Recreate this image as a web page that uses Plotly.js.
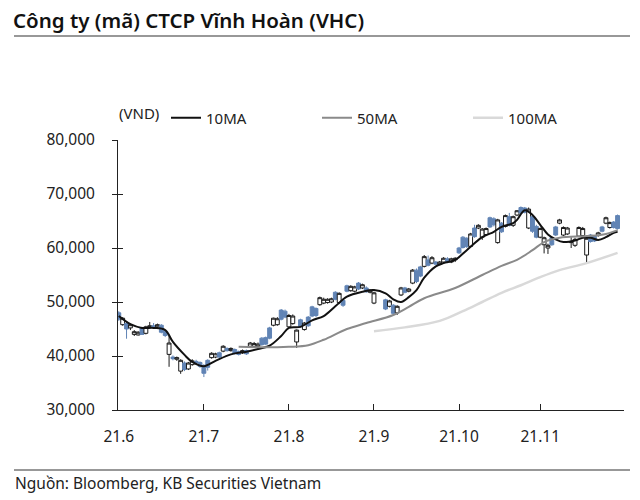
<!DOCTYPE html>
<html><head><meta charset="utf-8">
<script src="https://cdn.plot.ly/plotly-3.0.1.min.js"></script>
<style>html,body{margin:0;padding:0;background:#fff}#chart{width:640px;height:500px}</style>
</head><body><div id="chart"></div>
<script>
// Daily OHLC, thousand VND
const dates = ['2021-06-01','2021-06-02','2021-06-03','2021-06-04','2021-06-07','2021-06-08','2021-06-09','2021-06-10','2021-06-11','2021-06-14','2021-06-15','2021-06-16','2021-06-17','2021-06-18','2021-06-21','2021-06-22','2021-06-23','2021-06-24','2021-06-25','2021-06-28','2021-06-29','2021-06-30',
'2021-07-01','2021-07-02','2021-07-05','2021-07-06','2021-07-07','2021-07-08','2021-07-09','2021-07-12','2021-07-13','2021-07-14','2021-07-15','2021-07-16','2021-07-19','2021-07-20','2021-07-21','2021-07-22','2021-07-23','2021-07-26','2021-07-27','2021-07-28','2021-07-29','2021-07-30',
'2021-08-02','2021-08-03','2021-08-04','2021-08-05','2021-08-06','2021-08-09','2021-08-10','2021-08-11','2021-08-12','2021-08-13','2021-08-16','2021-08-17','2021-08-18','2021-08-19','2021-08-20','2021-08-23','2021-08-24','2021-08-25','2021-08-26','2021-08-27','2021-08-30','2021-08-31',
'2021-09-01','2021-09-06','2021-09-07','2021-09-08','2021-09-09','2021-09-10','2021-09-13','2021-09-14','2021-09-15','2021-09-16','2021-09-17','2021-09-20','2021-09-21','2021-09-22','2021-09-23','2021-09-24','2021-09-27','2021-09-28','2021-09-29','2021-09-30',
'2021-10-01','2021-10-04','2021-10-05','2021-10-06','2021-10-07','2021-10-08','2021-10-11','2021-10-12','2021-10-13','2021-10-14','2021-10-15','2021-10-18','2021-10-19','2021-10-20','2021-10-21','2021-10-22','2021-10-25','2021-10-26','2021-10-27','2021-10-28','2021-10-29',
'2021-11-01','2021-11-02','2021-11-03','2021-11-04','2021-11-05','2021-11-08','2021-11-09','2021-11-10','2021-11-11','2021-11-12','2021-11-15','2021-11-16','2021-11-17','2021-11-18','2021-11-19','2021-11-22','2021-11-23','2021-11-24','2021-11-25','2021-11-26','2021-11-29'];
const openK = [48.0,45.8,46.0,45.2,44.0,43.9,45.2,44.2,45.3,45.6,45.4,45.7,44.5,40.3,39.8,39.4,37.2,38.7,37.6,38.4,39.0,38.8,
38.2,39.2,39.7,39.8,40.6,40.9,41.4,41.0,41.2,40.8,40.6,41.0,41.8,41.8,41.8,43.3,43.4,45.2,45.7,45.8,48.5,48.3,
45.4,46.0,42.6,46.7,44.9,47.2,49.1,48.8,49.5,49.8,49.9,50.0,51.8,49.9,50.3,53.0,52.1,52.0,53.5,52.6,52.6,51.8,
49.8,50.4,49.2,49.4,48.0,51.3,52.6,52.0,53.5,55.9,56.5,56.6,57.8,57.2,57.4,57.0,57.4,58.0,57.4,57.8,
60.0,62.0,61.8,60.3,63.7,63.7,62.0,62.5,65.6,65.4,61.0,64.6,64.0,65.8,64.2,66.1,67.5,67.4,63.7,65.8,64.0,
62.0,60.6,60.0,61.9,63.9,64.6,62.4,62.6,61.0,60.5,62.2,62.3,58.7,62.4,62.2,62.3,63.9,64.6,63.8,64.8,66.0];
const highK = [48.3,47.2,46.3,46.0,44.8,44.6,45.4,45.6,46.3,46.1,46.0,45.9,44.8,43.7,40.1,39.9,39.4,39.0,38.9,39.4,39.3,39.0,
38.5,39.4,40.7,40.6,40.8,42.0,41.6,41.6,41.4,41.0,41.2,41.2,42.6,42.6,42.5,43.5,43.6,45.4,47.1,47.2,48.7,48.6,
47.8,47.7,44.9,46.9,46.3,47.4,49.3,49.0,51.0,50.8,50.7,50.8,52.0,51.8,50.6,53.2,53.1,53.0,53.7,53.4,52.9,52.3,
51.9,50.6,50.4,49.6,49.4,52.8,52.8,52.6,56.1,56.2,56.7,58.7,58.6,58.5,57.6,57.6,58.3,58.3,58.2,58.3,
60.2,62.2,62.0,62.8,64.3,64.4,63.7,63.8,65.8,65.7,65.4,64.8,66.2,66.5,66.0,67.0,67.7,67.6,67.5,66.1,64.3,
63.8,62.1,60.8,62.1,64.1,65.4,64.0,63.9,62.0,61.9,64.0,63.9,62.0,62.6,62.4,63.0,64.1,65.8,64.9,65.0,66.2];
const lowK = [46.5,45.6,43.2,44.8,43.7,43.8,43.9,44.0,45.1,45.2,45.0,44.2,43.5,38.0,39.2,39.1,36.7,37.2,37.4,38.2,38.5,37.8,
36.1,37.3,39.5,39.6,39.6,40.7,40.8,40.8,40.3,40.1,40.4,40.2,41.6,41.6,41.5,41.9,42.0,43.1,45.5,45.6,46.6,47.0,
45.2,45.8,41.5,45.3,44.7,45.4,47.2,47.2,49.3,49.6,49.7,49.8,50.3,49.6,49.1,51.8,51.9,51.8,52.2,52.4,51.7,51.6,
49.6,48.5,49.0,47.6,47.6,51.1,51.6,51.8,53.3,53.5,54.6,56.4,56.6,57.0,56.9,56.8,57.2,57.2,57.2,57.4,
58.9,59.9,60.0,60.1,61.9,63.5,61.5,62.3,63.7,64.0,60.8,62.8,63.8,64.0,63.9,65.9,66.3,66.4,63.5,62.8,61.8,
61.8,59.0,58.9,60.4,62.2,64.4,62.2,62.4,60.0,60.2,62.0,62.1,57.2,61.0,61.1,62.1,62.9,64.4,63.6,63.6,63.4];
const closeK = [46.8,47.0,45.0,45.8,44.5,44.4,44.0,45.4,45.6,45.4,45.8,44.4,43.8,42.4,39.5,39.7,39.2,37.5,38.7,39.1,38.8,38.1,
36.8,37.9,40.5,40.4,39.8,41.8,41.0,41.4,40.5,40.3,41.0,40.4,42.4,42.3,42.2,42.1,42.2,43.3,47.0,46.9,46.8,47.2,
47.5,47.4,44.8,45.4,46.1,45.6,47.4,47.5,50.8,50.5,50.5,50.6,50.5,51.6,49.4,52.0,52.9,52.8,52.4,53.2,51.9,52.1,
51.7,48.7,50.2,47.9,49.2,52.6,51.8,52.4,55.9,53.8,54.8,58.4,56.8,58.2,57.0,57.4,58.1,57.4,58.0,58.1,
59.1,60.1,60.3,62.6,62.1,64.2,63.5,63.6,63.9,64.3,65.2,63.0,66.0,64.2,65.8,66.9,66.5,66.6,67.2,63.1,62.0,
63.6,61.9,60.5,60.6,62.4,65.2,63.8,63.7,61.2,61.6,63.8,63.6,61.8,61.2,61.3,62.8,63.1,65.6,64.7,63.8,63.6];

// Moving averages, thousand VND
const ma10Dates = ['2021-06-01','2021-06-04','2021-06-09','2021-06-14','2021-06-17','2021-06-21','2021-06-24','2021-06-28','2021-07-01','2021-07-06','2021-07-12','2021-07-16','2021-07-21','2021-07-26','2021-07-29','2021-08-02','2021-08-05','2021-08-10','2021-08-13','2021-08-18','2021-08-23','2021-08-27','2021-09-01','2021-09-06','2021-09-08','2021-09-10','2021-09-14','2021-09-16','2021-09-20','2021-09-23','2021-09-27','2021-09-30','2021-10-05','2021-10-11','2021-10-14','2021-10-18','2021-10-21','2021-10-22','2021-10-26','2021-10-28','2021-11-01','2021-11-03','2021-11-05','2021-11-09','2021-11-12','2021-11-16','2021-11-18','2021-11-22','2021-11-24','2021-11-26','2021-11-29'];
const ma10K = [47.4,45.9,45.2,45.2,44.8,42.6,40.2,38.9,38.1,39.1,40.3,40.8,41.3,41.9,43.7,45.2,45.4,46.6,47.4,49.2,51.0,51.9,52.2,51.6,50.5,50.0,50.9,52.2,54.5,56.6,57.2,57.8,59.6,62.0,63.0,63.9,64.6,65.2,67.0,66.1,64.3,62.5,61.6,61.1,61.4,61.9,61.9,61.5,62.0,62.8,63.0];
const ma50Dates = ['2021-07-14','2021-07-22','2021-08-02','2021-08-09','2021-08-13','2021-08-23','2021-08-30','2021-09-08','2021-09-14','2021-09-20','2021-09-30','2021-10-11','2021-10-18','2021-10-22','2021-10-28','2021-11-02','2021-11-08','2021-11-17','2021-11-24','2021-11-29'];
const ma50K = [41.7,41.6,41.7,42.0,43.0,45.0,46.1,47.6,49.1,50.7,52.6,55.0,56.7,57.8,59.6,61.1,61.9,62.2,62.6,63.3];
const ma100Dates = ['2021-09-01','2021-09-13','2021-09-24','2021-10-04','2021-10-11','2021-10-18','2021-10-25','2021-11-01','2021-11-08','2021-11-17','2021-11-29'];
const ma100K = [44.6,45.3,46.5,48.3,50.0,51.7,53.1,54.6,55.9,57.2,59.1];

const monthTicks = ['2021-06-01','2021-07-01','2021-08-02','2021-09-01','2021-10-01','2021-11-01'];
const monthLabels = ['21.6','21.7','21.8','21.9','21.10','21.11'];
const seriesNames = ['10MA','50MA','100MA'];

const toVND = a => a.map(v => v * 1000);
const FONT = 'Noto Sans, sans-serif';
const blue = '#6184b5';

const traces = [
  {type:'candlestick', x:dates, open:toVND(openK), high:toVND(highK), low:toVND(lowK), close:toVND(closeK),
   increasing:{line:{color:'#1a1a1a', width:1}, fillcolor:'#ffffff'},
   decreasing:{line:{color:blue, width:1}, fillcolor:blue},
   whiskerwidth:0, showlegend:false, hoverinfo:'skip'},
  {type:'scatter', mode:'lines', x:ma10Dates, y:toVND(ma10K), name:seriesNames[0],
   line:{color:'#111111', width:2, shape:'spline'}},
  {type:'scatter', mode:'lines', x:ma50Dates, y:toVND(ma50K), name:seriesNames[1],
   line:{color:'#8a8a8a', width:2, shape:'spline'}},
  {type:'scatter', mode:'lines', x:ma100Dates, y:toVND(ma100K), name:seriesNames[2],
   line:{color:'#d9d9d9', width:2.5, shape:'spline'}},
  {type:'scatter', mode:'lines', x:[dates[0]], y:[null], yaxis:'y2', showlegend:false, hoverinfo:'skip'}
];

const L = 118, R = 624, T = 140, B = 410;
const pw = R - L, ph = B - T;
const px = x => (x - L) / pw;
const py = y => (B - y) / ph;

const layout = {
  width:640, height:500,
  margin:{l:L, r:640-R, t:T, b:500-B, pad:0},
  paper_bgcolor:'#fff', plot_bgcolor:'#fff',
  font:{family:FONT, size:15.5, color:'#222'},
  title:{text:'Công ty (mã) CTCP Vĩnh Hoàn (VHC)', x:13/640, xref:'container', xanchor:'left',
         y:1-21/500, yref:'container', yanchor:'middle',
         font:{family:FONT, size:20.5, color:'#111', weight:600}},
  showlegend:true,
  legend:{orientation:'h', x:px(166), xanchor:'left', y:py(118), yanchor:'middle',
          entrywidth:106, entrywidthmode:'pixels', font:{size:15, color:'#222'},
          bgcolor:'rgba(0,0,0,0)', tracegroupgap:0},
  xaxis:{type:'date', range:['2021-05-31 19:00','2021-11-30 16:00'],
         rangebreaks:[{bounds:['sat','mon']}],
         tickvals:monthTicks, ticktext:monthLabels, ticks:'inside', ticklen:6, tickcolor:'#222',
         showline:true, linecolor:'#222', linewidth:1, showgrid:false, zeroline:false,
         tickfont:{size:15.5, color:'#222'}, ticklabelstandoff:12, rangeslider:{visible:false}, fixedrange:true},
  yaxis:{range:[30000,80000], dtick:10000, tick0:30000, tickformat:',d', ticks:'outside', ticklen:5,
         tickcolor:'#222', showline:true, linecolor:'#222', linewidth:1, showgrid:false, zeroline:false,
         tickfont:{size:15.5, color:'#222'}, ticklabelstandoff:14, fixedrange:true},
  yaxis2:{overlaying:'y', anchor:'x', side:'left', range:[30000,80000], dtick:10000, tick0:30000,
          ticks:'inside', ticklen:5, tickcolor:'#222', showticklabels:false, showline:false,
          showgrid:false, zeroline:false, fixedrange:true},
  shapes:[
    {type:'line', xref:'paper', yref:'paper', x0:px(14), x1:px(630), y0:py(36), y1:py(36), line:{color:'#333', width:1.2}},
    {type:'line', xref:'paper', yref:'paper', x0:px(14), x1:px(630), y0:py(470), y1:py(470), line:{color:'#333', width:1.2}}
  ],
  annotations:[
    {text:'(VND)', xref:'paper', yref:'paper', x:px(117), y:py(113), xanchor:'left', yanchor:'middle', showarrow:false, font:{size:15, color:'#222'}},
    {text:'Nguồn: Bloomberg, KB Securities Vietnam', xref:'paper', yref:'paper', x:px(13), y:py(483), xanchor:'left', yanchor:'middle', showarrow:false, font:{size:15.5, color:'#222'}}
  ],
  boxgap:0, boxgroupgap:0
};

Plotly.newPlot('chart', traces, layout, {staticPlot:true, displayModeBar:false});
</script>
</body></html>
